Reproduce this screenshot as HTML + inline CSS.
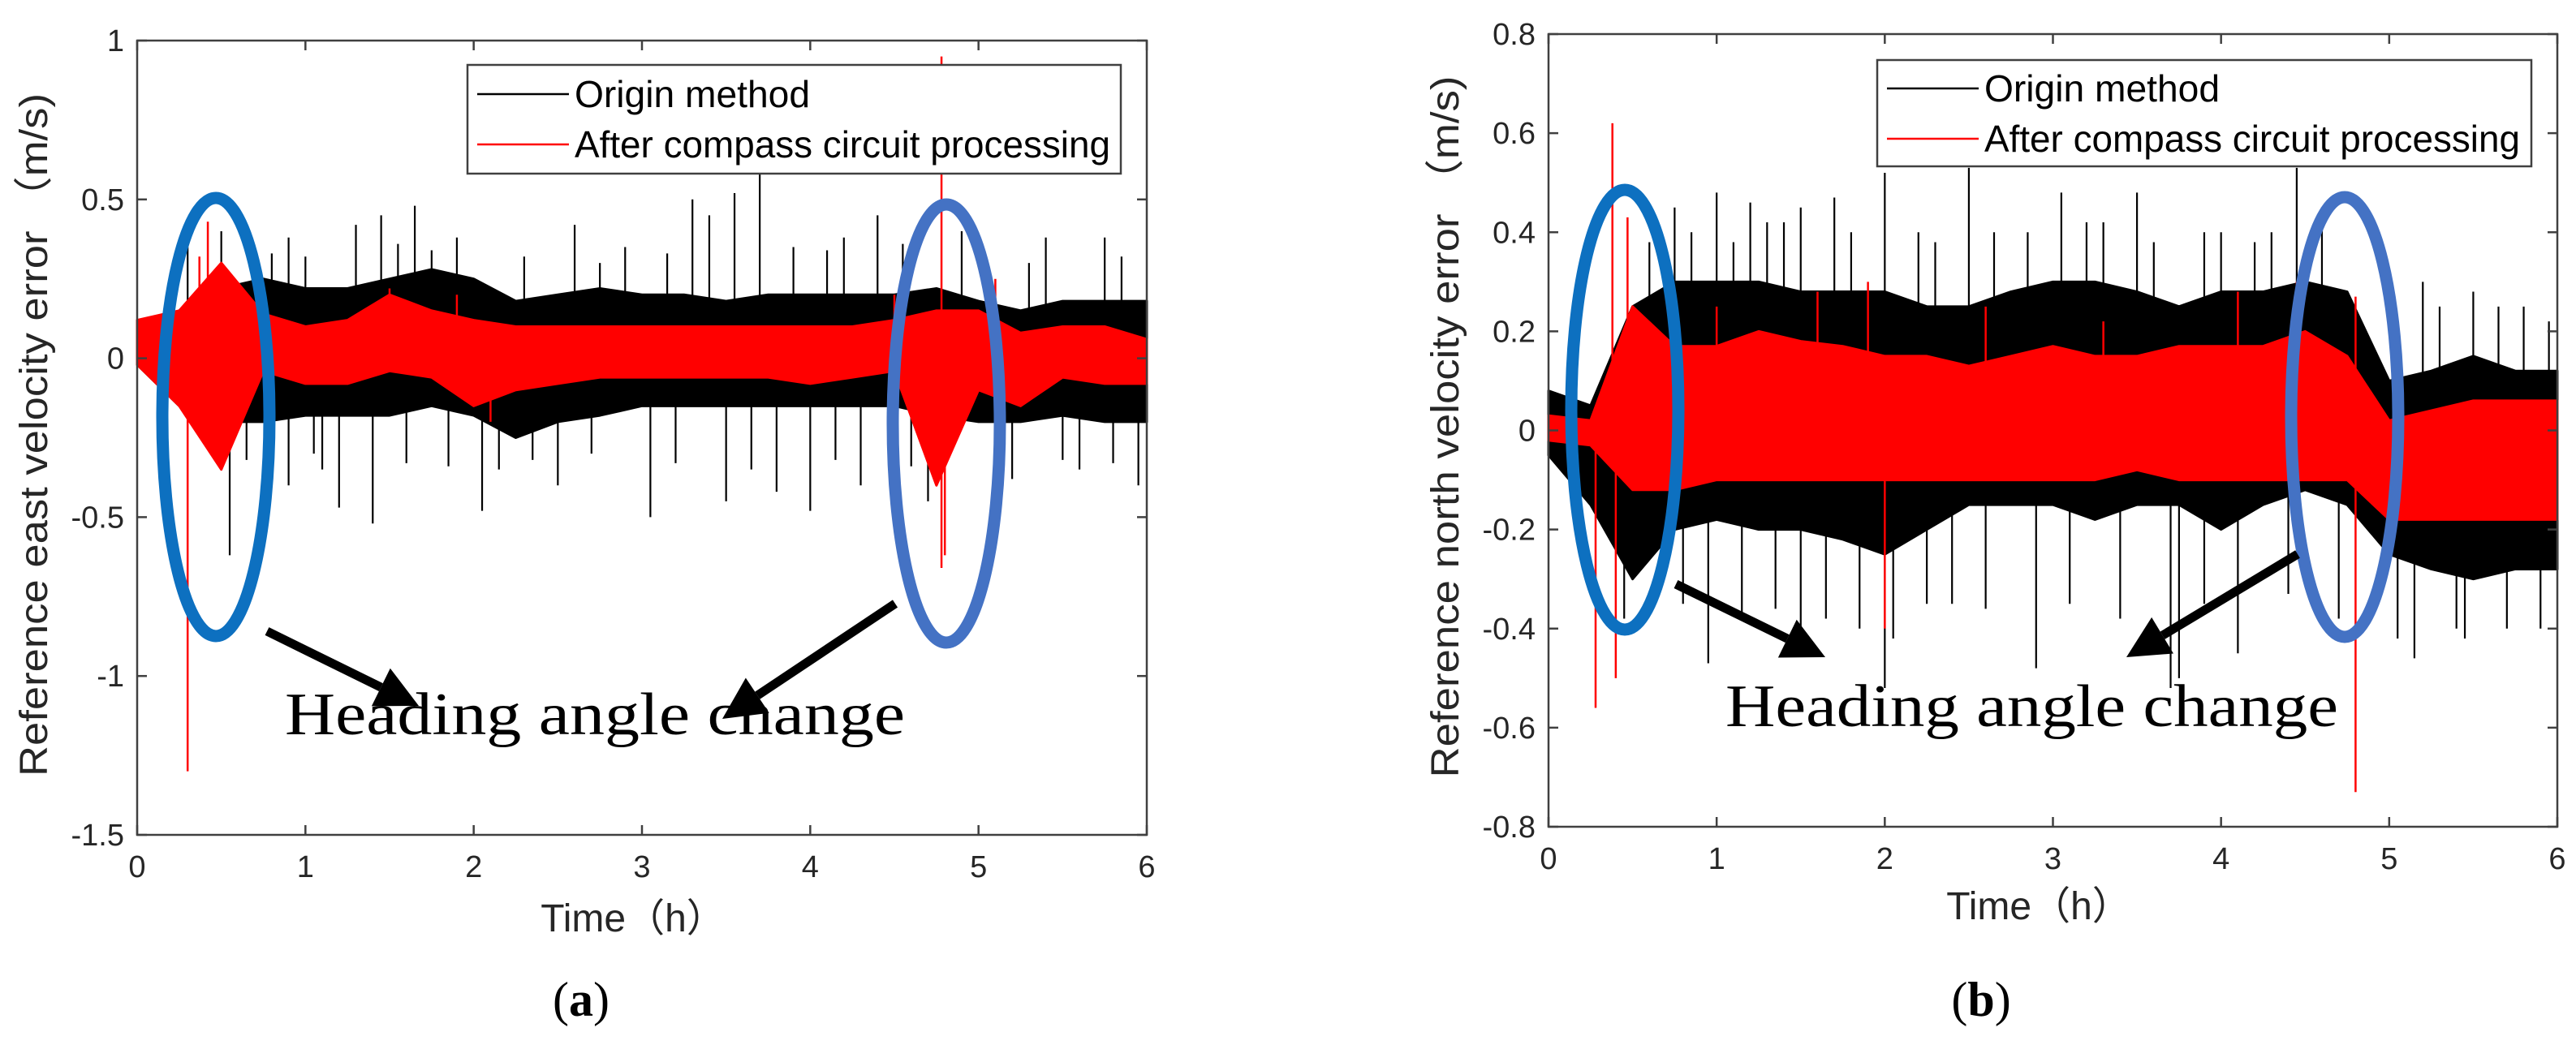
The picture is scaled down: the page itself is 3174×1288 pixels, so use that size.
<!DOCTYPE html>
<html><head><meta charset="utf-8"><style>
html,body{margin:0;padding:0;background:#fff;}
svg{display:block;}
</style></head><body>
<svg id="fig" width="3174" height="1288" viewBox="0 0 3174 1288" xmlns="http://www.w3.org/2000/svg">
<rect width="3174" height="1288" fill="#fff"/>
<g id="pa"></g>
<g id="pb"></g>
</svg>
<script>
// shared time axis
const timeTicks = [0,1,2,3,4,5,6];
const envTimes = [0,0.25,0.5,0.75,1,1.25,1.5,1.75,2,2.25,2.5,2.75,3,3.25,3.5,3.75,4,4.25,4.5,4.75,5,5.25,5.5,5.75,6];

// Panel (a) east velocity error
const aYTicks = [1,0.5,0,-0.5,-1,-1.5];
const aYTickLabels = ["1","0.5","0","-0.5","-1","-1.5"];
const aBlackHi = [0.02,0.15,0.22,0.25,0.22,0.22,0.25,0.28,0.25,0.18,0.2,0.22,0.2,0.2,0.18,0.2,0.2,0.2,0.2,0.22,0.18,0.15,0.18,0.18,0.18];
const aBlackLo = [-0.02,-0.15,-0.2,-0.2,-0.18,-0.18,-0.18,-0.15,-0.18,-0.25,-0.2,-0.18,-0.15,-0.15,-0.15,-0.15,-0.15,-0.15,-0.15,-0.18,-0.2,-0.2,-0.18,-0.2,-0.2];
const aBlackSpikeT = [0.5,0.9,1.3,1.45,1.65,1.9,2.6,3.3,3.4,3.55,3.7,4.4,4.9,5.4,5.75,0.55,1.2,1.4,2.05,2.15,3.05,3.5,4.0,4.7,5.2,5.95,0.9,2.5,3.8,4.3,0.3,0.7,1.1,2.9,4.2,5.6,
  0.8,1.0,1.55,1.75,2.3,2.75,3.15,3.9,4.1,4.55,5.05,5.3,5.85,0.65,1.05,1.6,1.85,2.35,2.7,3.2,3.65,4.15,4.6,5.1,5.5,5.8];
const aBlackSpikeV = [0.4,0.38,0.42,0.45,0.48,0.38,0.42,0.5,0.45,0.52,0.58,0.45,0.4,0.38,0.38,-0.62,-0.47,-0.52,-0.48,-0.35,-0.5,-0.45,-0.48,-0.45,-0.38,-0.4,-0.4,-0.4,-0.42,-0.4,0.35,0.35,-0.35,0.35,0.38,-0.35,
  0.33,0.32,0.36,0.34,0.32,0.3,0.33,0.35,0.34,0.36,0.3,0.3,0.32,-0.32,-0.3,-0.33,-0.34,-0.32,-0.3,-0.33,-0.35,-0.32,-0.34,-0.3,-0.32,-0.33];
const aRedHi = [0.12,0.15,0.3,0.14,0.1,0.12,0.2,0.15,0.12,0.1,0.1,0.1,0.1,0.1,0.1,0.1,0.1,0.1,0.12,0.15,0.15,0.08,0.1,0.1,0.06];
const aRedLo = [-0.02,-0.15,-0.35,-0.04,-0.08,-0.08,-0.04,-0.06,-0.15,-0.1,-0.08,-0.06,-0.06,-0.06,-0.06,-0.06,-0.08,-0.06,-0.04,-0.4,-0.1,-0.15,-0.06,-0.08,-0.08];
const aRedSpikeT = [0.3,0.37,0.42,4.78,4.78,4.8,5.1,1.5,1.9,2.1,4.5];
const aRedSpikeV = [-1.3,0.32,0.43,0.95,-0.66,-0.62,0.25,0.22,0.2,-0.2,0.2];

// Panel (b) north velocity error
const bYTicks = [0.8,0.6,0.4,0.2,0,-0.2,-0.4,-0.6,-0.8];
const bYTickLabels = ["0.8","0.6","0.4","0.2","0","-0.2","-0.4","-0.6","-0.8"];
const bBlackHi = [0.08,0.05,0.25,0.3,0.3,0.3,0.28,0.28,0.28,0.25,0.25,0.28,0.3,0.3,0.28,0.25,0.28,0.28,0.3,0.28,0.1,0.12,0.15,0.12,0.12];
const bBlackLo = [-0.05,-0.15,-0.3,-0.2,-0.18,-0.2,-0.2,-0.22,-0.25,-0.2,-0.15,-0.15,-0.15,-0.18,-0.15,-0.15,-0.2,-0.15,-0.12,-0.15,-0.25,-0.28,-0.3,-0.28,-0.28];
const bBlackSpikeT = [0.75,1.0,1.2,1.5,1.7,2.0,2.5,2.85,3.05,3.5,3.9,4.45,4.6,5.2,5.65,5.95,0.45,0.95,1.5,2.0,2.05,2.9,3.7,3.75,4.1,5.15,5.7,5.9,1.85,2.4,0.6,1.3,2.2,3.2,4.3,5.4,
  0.85,1.1,1.4,1.8,2.3,2.65,3.3,3.6,4.0,4.2,5.3,5.5,5.8,0.8,1.15,1.35,1.65,2.25,2.6,3.1,3.4,3.9,4.4,4.7,5.05,5.45];
const bBlackSpikeV = [0.45,0.48,0.46,0.45,0.47,0.52,0.53,0.4,0.48,0.48,0.4,0.53,0.45,0.3,0.25,0.22,-0.38,-0.47,-0.45,-0.52,-0.42,-0.48,-0.52,-0.5,-0.45,-0.46,-0.4,-0.4,-0.4,-0.35,0.38,0.42,0.4,0.42,0.4,-0.4,
  0.4,0.38,0.42,0.4,0.38,0.4,0.42,0.38,0.4,0.38,0.25,0.28,0.25,-0.35,-0.38,-0.36,-0.38,-0.35,-0.36,-0.35,-0.38,-0.35,-0.33,-0.38,-0.42,-0.42];
const bRedHi = [0.03,0.02,0.25,0.17,0.17,0.2,0.18,0.17,0.15,0.15,0.13,0.15,0.17,0.15,0.15,0.17,0.17,0.17,0.2,0.15,0.02,0.04,0.06,0.06,0.06];
const bRedLo = [-0.02,-0.03,-0.12,-0.12,-0.1,-0.1,-0.1,-0.1,-0.1,-0.1,-0.1,-0.1,-0.1,-0.1,-0.08,-0.1,-0.1,-0.1,-0.1,-0.1,-0.18,-0.18,-0.18,-0.18,-0.18];
const bRedSpikeT = [0.38,0.47,0.28,0.4,1.9,4.8,4.8,4.45,2.0,1.0,1.6,2.6,3.3,4.1];
const bRedSpikeV = [0.62,0.43,-0.56,-0.5,0.3,-0.73,0.27,0.3,-0.4,0.25,0.28,0.25,0.22,0.28];

const NS = "http://www.w3.org/2000/svg";
function mk(parent, tag, attrs, text){
  const e = document.createElementNS(NS, tag);
  for (const k in attrs) e.setAttribute(k, attrs[k]);
  if (text !== undefined) e.textContent = text;
  parent.appendChild(e);
  return e;
}

function drawPanel(g, P, ys, ylabels, bHi, bLo, bST, bSV, rHi, rLo, rST, rSV){
  const xS = t => P.x0 + (t - 0) / 6 * (P.x1 - P.x0);
  const yS = v => P.y1 - (v - P.ymin) / (P.ymax - P.ymin) * (P.y1 - P.y0);

  const plot = mk(g, 'g', {});
  
  

  let pts = envTimes.map((t,i)=>xS(t)+','+yS(bHi[i]));
  pts = pts.concat(envTimes.map((t,i)=>xS(t)+','+yS(bLo[i])).reverse());
  const bb = mk(plot, 'polygon', {points: pts.join(' '), fill:'#000', stroke:'#000', 'stroke-width':3, 'stroke-linejoin':'round'});
  
  
  for (let i=0;i<bST.length;i++){
    const sp = mk(plot, 'line', {x1:xS(bST[i]), x2:xS(bST[i]), y1:yS(0), y2:yS(bSV[i]), stroke:'#000', 'stroke-width':2.2});
    
    
  }
  let rp = envTimes.map((t,i)=>xS(t)+','+yS(rHi[i]));
  rp = rp.concat(envTimes.map((t,i)=>xS(t)+','+yS(rLo[i])).reverse());
  const rb = mk(plot, 'polygon', {points: rp.join(' '), fill:'#ff0000', stroke:'#ff0000', 'stroke-width':3, 'stroke-linejoin':'round'});
  
  
  for (let i=0;i<rST.length;i++){
    const sp = mk(plot, 'line', {x1:xS(rST[i]), x2:xS(rST[i]), y1:yS(0), y2:yS(rSV[i]), stroke:'#ff0000', 'stroke-width':2.5});
    
    
  }

  const box = mk(g, 'rect', {x:P.x0, y:P.y0, width:P.x1-P.x0, height:P.y1-P.y0, fill:'none', stroke:'#404040', 'stroke-width':2.5});
  
  

  timeTicks.forEach(t=>{
    const x = xS(t);
    mk(g,'line',{x1:x,x2:x,y1:P.y1,y2:P.y1-12,stroke:'#404040','stroke-width':2.5});
    mk(g,'line',{x1:x,x2:x,y1:P.y0,y2:P.y0+12,stroke:'#404040','stroke-width':2.5});
    const tl = mk(g,'text',{x:x,y:P.y1+52,'text-anchor':'middle','font-family':'Liberation Sans, sans-serif','font-size':38,fill:'#262626'}, String(t));
    
    
  });
  ys.forEach((v,i)=>{
    const y = yS(v);
    mk(g,'line',{x1:P.x0,x2:P.x0+12,y1:y,y2:y,stroke:'#404040','stroke-width':2.5});
    mk(g,'line',{x1:P.x1,x2:P.x1-12,y1:y,y2:y,stroke:'#404040','stroke-width':2.5});
    const tl = mk(g,'text',{x:P.x0-16,y:y+13,'text-anchor':'end','font-family':'Liberation Sans, sans-serif','font-size':38,fill:'#262626'}, ylabels[i]);
    
    
  });

  const xt = mk(g,'text',{x:P.timeX,y:P.timeY,'text-anchor':'middle','font-family':'Liberation Sans, Noto Sans CJK SC, sans-serif','font-size':48,fill:'#262626'}, 'Time（h）');
  
  
  const yt = mk(g,'text',{x:0,y:0,'text-anchor':'middle','font-family':'Liberation Sans, Noto Sans CJK SC, sans-serif','font-size':48,fill:'#262626',textLength:P.ytLen,lengthAdjust:'spacingAndGlyphs',transform:'translate('+P.ytX+','+P.ytY+') rotate(-90)'}, P.ytText);
  
  

  const lg = mk(g,'g',{});
  
  
  mk(lg,'rect',{x:P.lx0,y:P.ly0,width:P.lx1-P.lx0,height:P.ly1-P.ly0,fill:'#fff',stroke:'#404040','stroke-width':2.5});
  const e1 = mk(lg,'g',{});
  
  
  mk(e1,'line',{x1:P.lx0+12,x2:P.lx0+125,y1:P.lyA,y2:P.lyA,stroke:'#000','stroke-width':2.5});
  mk(e1,'text',{x:P.lx0+132,y:P.lyA+16,'font-family':'Liberation Sans Narrow, Liberation Sans, sans-serif','font-size':46,fill:'#000',textLength:290,lengthAdjust:'spacingAndGlyphs'},'Origin method');
  const e2 = mk(lg,'g',{});
  
  
  mk(e2,'line',{x1:P.lx0+12,x2:P.lx0+125,y1:P.lyB,y2:P.lyB,stroke:'#ff0000','stroke-width':2.5});
  mk(e2,'text',{x:P.lx0+132,y:P.lyB+16,'font-family':'Liberation Sans Narrow, Liberation Sans, sans-serif','font-size':46,fill:'#000',textLength:660,lengthAdjust:'spacingAndGlyphs'},'After compass circuit processing');

  P.ells.forEach((e,i)=>{
    const el = mk(g,'ellipse',{cx:e[0],cy:e[1],rx:e[2],ry:e[3],fill:'none',stroke:e[4],'stroke-width':15});
    
    
  });
  P.arrows.forEach(a=>{
    const [x1,y1,x2,y2] = a;
    const ang = Math.atan2(y2-y1,x2-x1), L=52, W=26;
    const bx = x2 - L*Math.cos(ang), by = y2 - L*Math.sin(ang);
    const ag = mk(g,'g',{});
    
    
    mk(ag,'line',{x1:x1,y1:y1,x2:bx,y2:by,stroke:'#000','stroke-width':11});
    const px = -Math.sin(ang), py = Math.cos(ang);
    mk(ag,'polygon',{points:[x2+','+y2,(bx+px*W)+','+(by+py*W),(bx-px*W)+','+(by-py*W)].join(' '),fill:'#000'});
  });
  const ht = mk(g,'text',{x:P.hx,y:P.hy,'font-family':'Liberation Serif, serif','font-size':74,fill:'#000',textLength:P.hLen,lengthAdjust:'spacingAndGlyphs'},'Heading angle change');
  
  
  const cap = mk(g,'text',{x:P.capX,y:1252,'text-anchor':'middle','font-family':'Liberation Serif, serif','font-size':60,fill:'#000'});
  
  
  mk(cap,'tspan',{},'(');
  mk(cap,'tspan',{'font-weight':'bold'},P.capL);
  mk(cap,'tspan',{},')');
}

drawPanel(document.getElementById('pa'), {
  x0:169,x1:1413,y0:50,y1:1029,ymin:-1.5,ymax:1,
  timeX:780,timeY:1148,ytX:58,ytY:536,ytLen:842,ytText:'Reference east velocity error （m/s)',
  lx0:576,lx1:1381,ly0:80,ly1:214,lyA:116,lyB:178,
  ells:[[266,514,66,270,'#0d70c0'],[1166,522,66,270,'#4472c4']],
  arrows:[[329,778,516,870],[1103,744,890,886]],
  hx:351,hy:905,hLen:764,capX:716,capL:'a'
}, aYTicks, aYTickLabels, aBlackHi, aBlackLo, aBlackSpikeT, aBlackSpikeV, aRedHi, aRedLo, aRedSpikeT, aRedSpikeV);

drawPanel(document.getElementById('pb'), {
  x0:1908,x1:3151,y0:42,y1:1019,ymin:-0.8,ymax:0.8,
  timeX:2512,timeY:1133,ytX:1797,ytY:526,ytLen:865,ytText:'Reference north velocity error （m/s)',
  lx0:2313,lx1:3119,ly0:74,ly1:205,lyA:109,lyB:171,
  ells:[[2002,505,66,271,'#0d70c0'],[2889,514,66,271,'#4472c4']],
  arrows:[[2065,720,2249,810],[2831,683,2620,810]],
  hx:2126,hy:895,hLen:755,capX:2441,capL:'b'
}, bYTicks, bYTickLabels, bBlackHi, bBlackLo, bBlackSpikeT, bBlackSpikeV, bRedHi, bRedLo, bRedSpikeT, bRedSpikeV);
</script>
</body></html>
